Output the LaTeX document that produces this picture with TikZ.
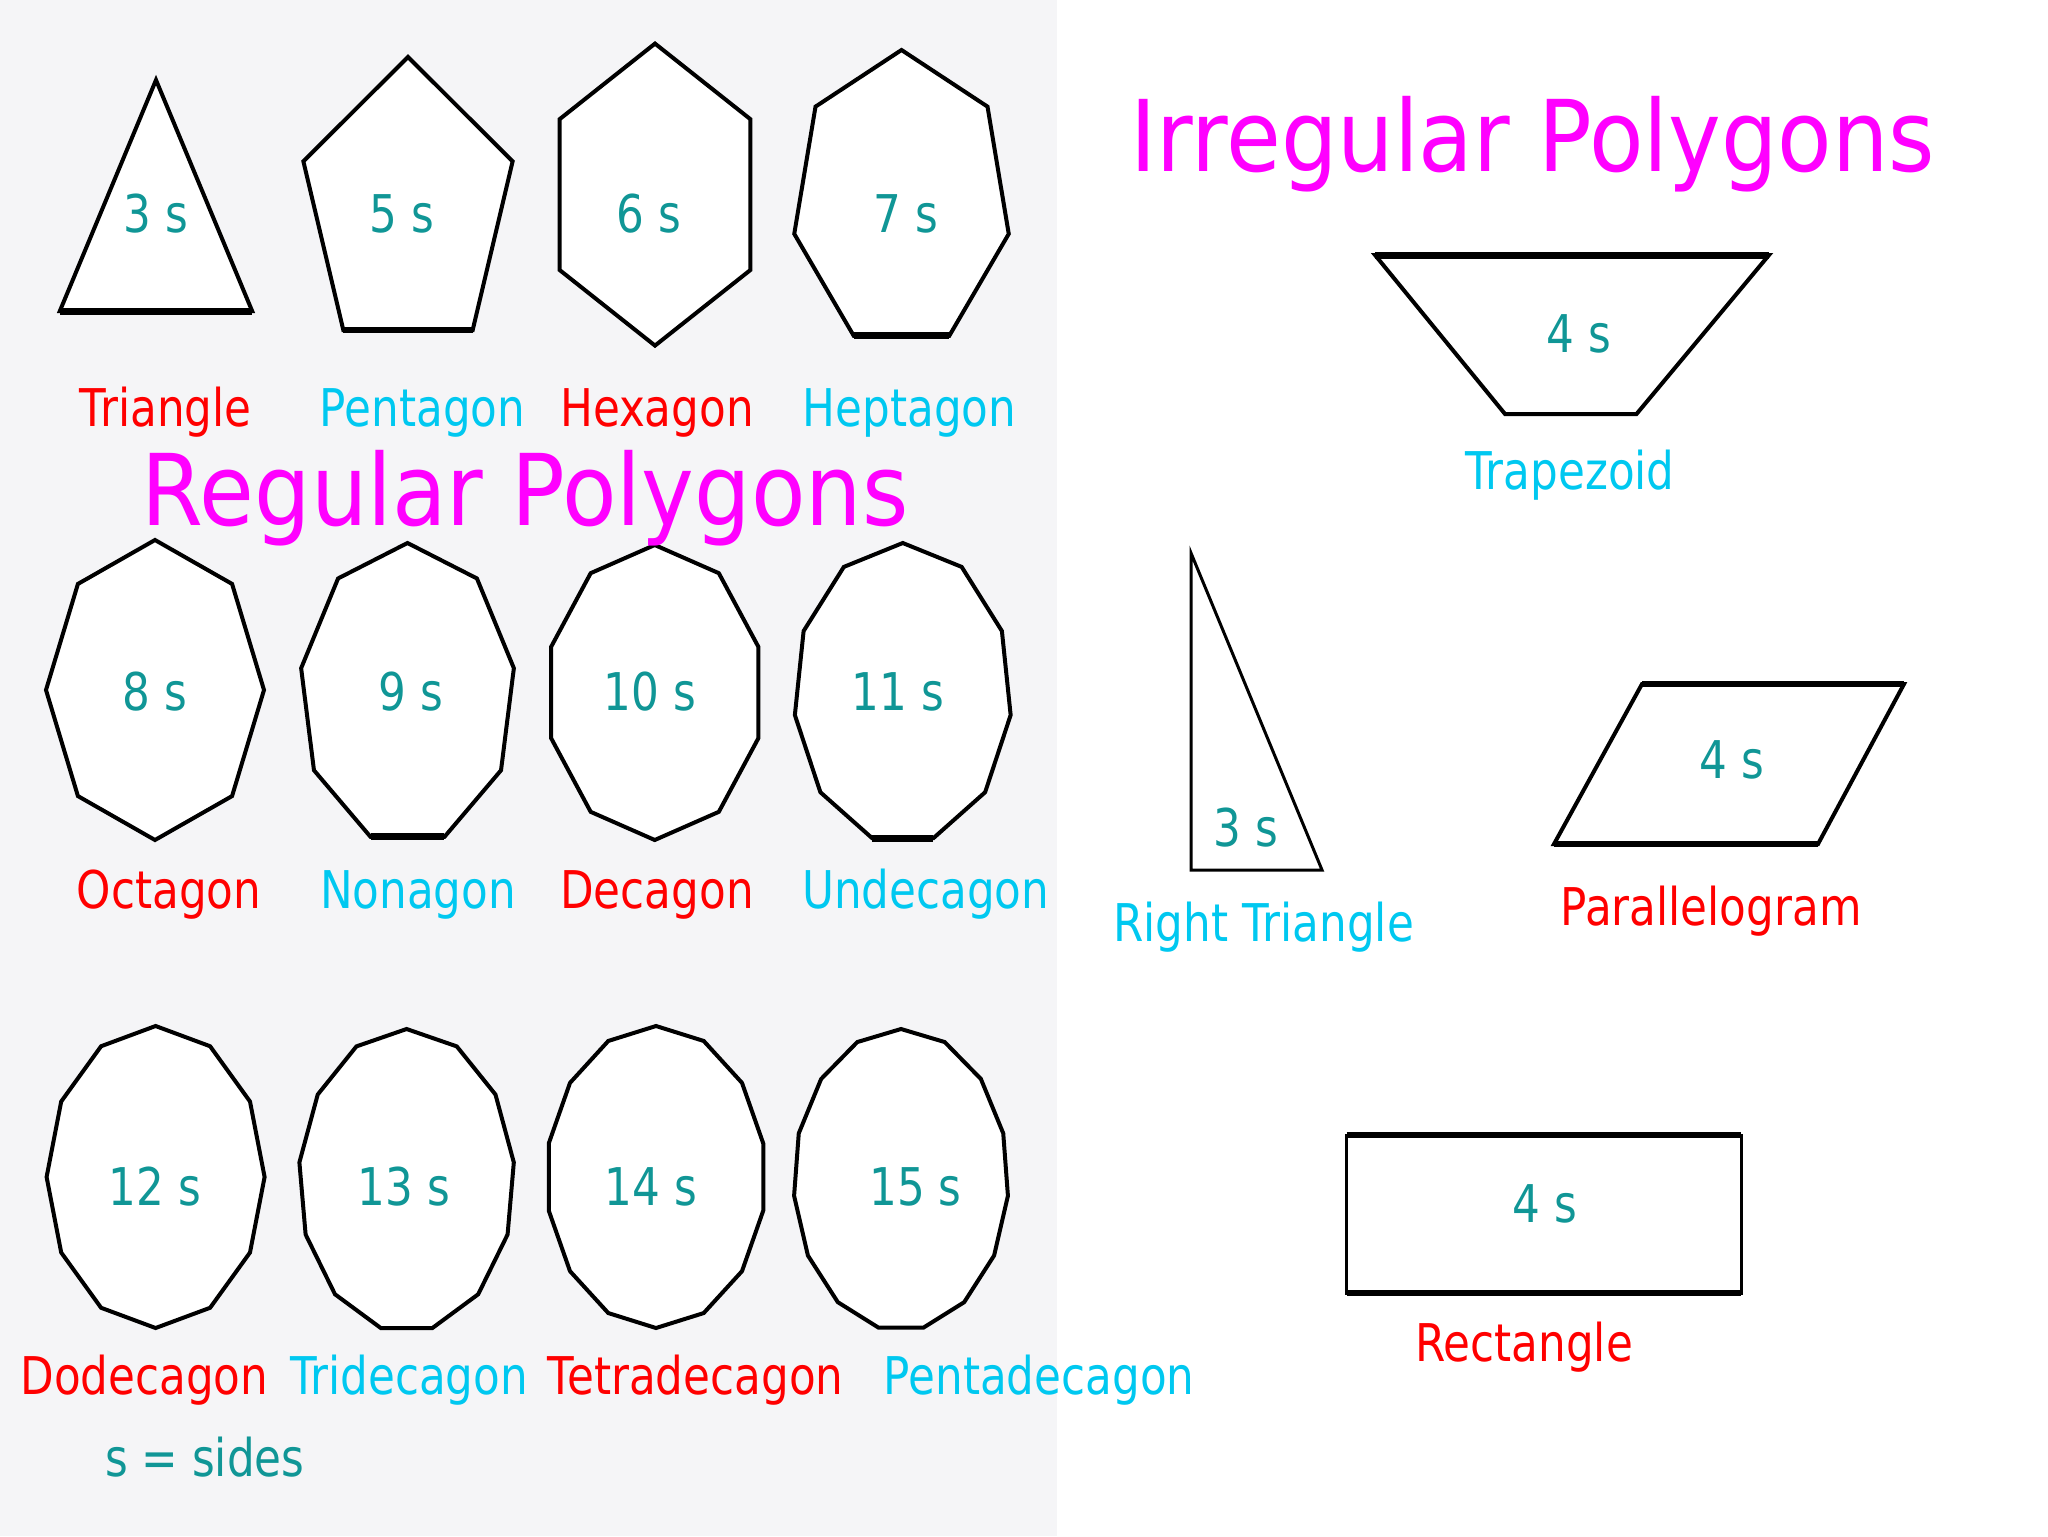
\documentclass[tikz,border=0pt]{standalone}
\usepackage{fontspec}
\newfontfamily\labfont[FakeStretch=0.84]{DejaVu Sans}
\newfontfamily\ttlfont[FakeStretch=0.90]{DejaVu Sans}
\definecolor{mag}{RGB}{255,0,255}
\definecolor{lblred}{RGB}{255,0,0}
\definecolor{lblcyan}{RGB}{0,200,240}
\definecolor{tealtxt}{RGB}{16,150,150}
\definecolor{panel}{RGB}{245,245,247}
\tikzset{
  poly/.style={draw=black, fill=white, line width=2pt, line join=miter},
  thinpoly/.style={draw=black, fill=white, line width=1.5pt, line join=miter},
  heavy/.style={draw=black, line width=3.5pt},
  medium/.style={draw=black, line width=2.8pt},
  count/.style={text=tealtxt, font=\labfont\fontsize{26}{30}\selectfont, anchor=base, inner sep=0pt},
  redname/.style={text=lblred, font=\labfont\fontsize{26}{30}\selectfont, anchor=base, inner sep=0pt},
  cyanname/.style={text=lblcyan, font=\labfont\fontsize{26}{30}\selectfont, anchor=base, inner sep=0pt},
  headline/.style={text=mag, font=\ttlfont\fontsize{49.5}{55}\selectfont, anchor=base, inner sep=0pt},
}
% name, cx, cy, rx, ry, n
\newcommand\rpoly[6]{%
  \foreach \k in {0,...,#6}{%
    \coordinate (#1-\k) at ({#2+#4*cos(90+360*\k/#6)},{#3-#5*sin(90+360*\k/#6)});
  }%
  \pgfmathtruncatemacro\lastk{#6-1}%
  \draw[poly] (#1-0) \foreach \k in {1,...,\lastk}{ -- (#1-\k) } -- cycle;
}
\begin{document}
\begin{tikzpicture}[x=0.5pt,y=-0.5pt]
\useasboundingbox (0,0) rectangle (2048,1536);
\fill[white] (0,0) rectangle (2048,1536);
\fill[panel] (0,0) rectangle (1057,1536);

% ---------- Regular polygons ----------
\rpoly{tri}{156}{234}{111}{154}{3}
\rpoly{pent}{408}{208}{110}{151}{5}
\rpoly{hex}{655}{194.6}{110}{151}{6}
\rpoly{hept}{901.5}{200.4}{110}{150.4}{7}
\draw[heavy] (tri-1) -- (tri-2);
\draw[medium] (pent-2) -- (pent-3);
\draw[heavy] (hept-3) -- (hept-4);

\rpoly{oct}{155}{690}{109}{150}{8}
\rpoly{non}{407.5}{694.5}{108}{151.5}{9}
\rpoly{dec}{654.75}{692.5}{109}{147.5}{10}
\rpoly{undec}{902.75}{693.6}{109}{150.6}{11}
\draw[heavy] (non-4) -- (non-5);
\draw[heavy] (undec-5) -- (undec-6);

\rpoly{dodec}{155.6}{1177}{109}{151}{12}
\rpoly{tridec}{406.6}{1180.7}{108}{151.7}{13}
\rpoly{tetradec}{656}{1177}{110}{151}{14}
\rpoly{pentadec}{901}{1180}{107.5}{151}{15}

% counts
\node[count] (c3) at (156,232) {3 s};
\node[count] (c5) at (402,232) {5 s};
\node[count] (c6) at (649,232) {6 s};
\node[count] (c7) at (906,232) {7 s};
\node[count] (c8) at (155,710) {8 s};
\node[count] (c9) at (410.7,710) {9 s};
\node[count] (c10) at (650,710) {10 s};
\node[count] (c11) at (898,710) {11 s};
\node[count] (c12) at (155,1205) {12 s};
\node[count] (c13) at (404,1205) {13 s};
\node[count] (c14) at (651,1205) {14 s};
\node[count] (c15) at (915.5,1205) {15 s};

% names
\node[redname] (ntri) at (165.6,426) {Triangle};
\node[cyanname] (npent) at (422.6,426) {Pentagon};
\node[redname] (nhex) at (657,426) {Hexagon};
\node[cyanname] (nhept) at (909.4,426) {Heptagon};
\node[redname] (noct) at (169,908) {Octagon};
\node[cyanname] (nnon) at (418,908) {Nonagon};
\node[redname] (ndec) at (657,908) {Decagon};
\node[cyanname] (nundec) at (925.6,908) {Undecagon};
\node[redname] (ndodec) at (144.4,1394) {Dodecagon};
\node[cyanname] (ntridec) at (409,1394) {Tridecagon};
\node[redname] (ntetradec) at (695.7,1394) {Tetradecagon};
\node[cyanname] (npentadec) at (1039,1394) {Pentadecagon};
\node[count] (legend) at (204.7,1476.7) {s = sides};

\node[headline] (regtitle) at (525,525) {Regular Polygons};

% ---------- Irregular polygons ----------
\node[headline] (irrtitle) at (1532.6,171.4) {Irregular Polygons};

% trapezoid
\coordinate (tz1) at (1375,255);
\coordinate (tz2) at (1769,255);
\coordinate (tz3) at (1636.5,414);
\coordinate (tz4) at (1505,414);
\draw[poly] (tz1) -- (tz2) -- (tz3) -- (tz4) -- cycle;
\draw[heavy] (tz1) -- (tz2);
\node[count] (ctz) at (1579,352) {4 s};
\node[cyanname] (ntz) at (1570,489) {Trapezoid};

% right triangle
\coordinate (rt1) at (1191,553);
\coordinate (rt2) at (1191,870);
\coordinate (rt3) at (1322,870);
\draw[thinpoly] (rt1) -- (rt2) -- (rt3) -- cycle;
\node[count] (crt) at (1246,846) {3 s};
\node[cyanname] (nrt) at (1263.6,941) {Right Triangle};

% parallelogram
\coordinate (pg1) at (1642,684);
\coordinate (pg2) at (1904,684);
\coordinate (pg3) at (1818,844);
\coordinate (pg4) at (1554,844);
\draw[poly] (pg1) -- (pg2) -- (pg3) -- (pg4) -- cycle;
\draw[medium] (pg1) -- (pg2);
\draw[medium] (pg4) -- (pg3);
\node[count] (cpg) at (1732,778) {4 s};
\node[redname] (npg) at (1711,925) {Parallelogram};

% rectangle
\coordinate (rc1) at (1346.5,1135);
\coordinate (rc2) at (1741,1293);
\draw[thinpoly] (rc1) rectangle (rc2);
\draw[medium] (rc1) -- (rc1 -| rc2);
\draw[medium] (rc1 |- rc2) -- (rc2);
\node[count] (crc) at (1545,1222) {4 s};
\node[redname] (nrc) at (1524,1361) {Rectangle};
\end{tikzpicture}
\end{document}
